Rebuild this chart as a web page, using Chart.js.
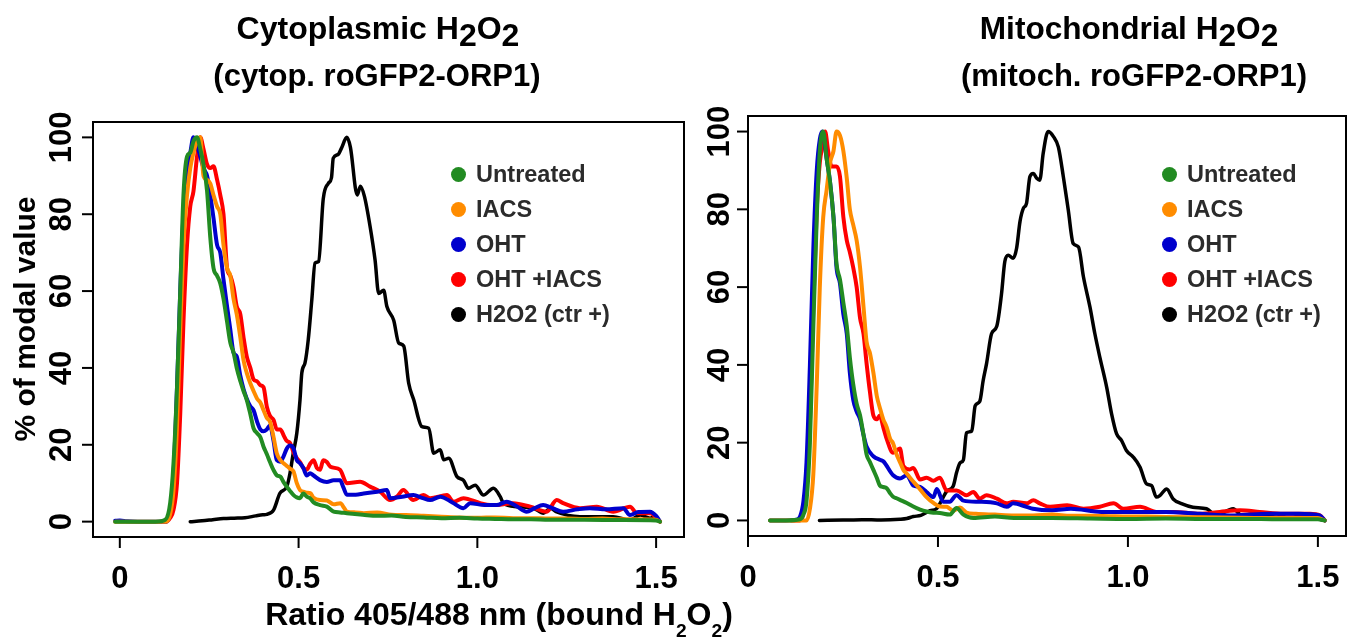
<!DOCTYPE html>
<html>
<head>
<meta charset="utf-8">
<script src="https://cdn.jsdelivr.net/npm/chart.js@4.4.0/dist/chart.umd.min.js"></script>
<style>
  body { margin: 0; background: #fff; }
  #page { position: relative; width: 1354px; height: 638px; overflow: hidden;
          font-family: "Liberation Sans", Arial, sans-serif; font-weight: bold; color: #000; }
  canvas { position: absolute; top: 0; }
  .t { position: absolute; white-space: nowrap; text-align: center; width: 600px;
       font-size: 31px; line-height: 31px; }
  .lg { position: absolute; font-size: 23.5px; line-height: 24px; color: #2b2b2b; white-space: nowrap; }
  .dot { position: absolute; width: 15px; height: 15px; border-radius: 50%; }
</style>
</head>
<body>
<div id="page">
  <canvas id="cyto" width="700" height="638" style="left:0;width:700px;height:638px"></canvas>
  <canvas id="mito" width="654" height="638" style="left:700px;width:654px;height:638px"></canvas>

  <div class="t" style="left:78px;top:13px;font-size:32px">Cytoplasmic H<span style="position:relative;top:7px">2</span>O<span style="position:relative;top:7px">2</span></div>
  <div class="t" style="left:77px;top:60px">(cytop. roGFP2-ORP1)</div>
  <div class="t" style="left:829px;top:13px;font-size:31.6px">Mitochondrial H<span style="position:relative;top:7px">2</span>O<span style="position:relative;top:7px">2</span></div>
  <div class="t" style="left:834px;top:60px">(mitoch. roGFP2-ORP1)</div>

  <div class="t" style="left:199px;top:598px;font-size:32px;line-height:32px">Ratio 405/488 nm (bound H<span style="font-size:60%;position:relative;top:12px">2</span>O<span style="font-size:60%;position:relative;top:12px">2</span>)</div>
  <div class="t" style="left:-175px;top:304px;width:400px;font-size:30px;line-height:30px;transform:rotate(-90deg)">% of modal value</div>

  <div id="legendCyto"></div>
  <div id="legendMito"></div>
</div>
<script>
// series order: Untreated, IACS, OHT, OHT +IACS, H2O2 (ctr +)
const seriesNames = ['Untreated', 'IACS', 'OHT', 'OHT +IACS', 'H2O2 (ctr +)'];
const seriesColors = ['#228B22', '#FF8C00', '#0000CD', '#FF0000', '#000000'];

const xTicks = [0, 0.5, 1.0, 1.5];
const xTickLabels = ['0', '0.5', '1.0', '1.5'];
const yTicks = [0, 20, 40, 60, 80, 100];

// cytoplasmic panel, [ratio, % of modal value]
const cytoUntreated = [[-0.013,0],[0.05,0],[0.1,0],[0.127,0.5],[0.141,5],[0.150,15],[0.160,35],[0.169,60],[0.178,85],[0.188,95],[0.197,96],[0.206,99],[0.216,100],[0.225,97],[0.234,93],[0.244,86],[0.253,74],[0.262,66],[0.272,64],[0.281,62],[0.29,58],[0.30,52],[0.309,46.6],[0.318,44],[0.327,40],[0.337,36.6],[0.346,34],[0.355,31.7],[0.365,28],[0.374,24.3],[0.384,23],[0.393,22],[0.402,19.5],[0.411,17.6],[0.42,15.5],[0.43,13.4],[0.44,12],[0.449,11.7],[0.458,10.3],[0.467,9.1],[0.476,8],[0.486,6.9],[0.495,6.3],[0.504,6.1],[0.513,7.3],[0.523,6.5],[0.532,6.1],[0.542,5],[0.56,4.3],[0.579,3.9],[0.598,2.6],[0.616,2.4],[0.635,2.2],[0.68,1.8],[0.72,1.5],[0.76,1.6],[0.8,1.2],[0.85,1.1],[0.9,0.9],[0.95,1.0],[1.0,0.8],[1.05,0.7],[1.1,0.6],[1.15,0.6],[1.2,0.5],[1.3,0.5],[1.4,0.4],[1.5,0.3],[1.511,0]];
const cytoIacs = [[-0.013,0],[0.05,0],[0.1,0],[0.13,0],[0.141,2],[0.150,8],[0.160,25],[0.169,50],[0.178,72],[0.188,85],[0.197,92],[0.206,96],[0.216,99],[0.225,100],[0.234,90],[0.244,89],[0.253,88],[0.262,85],[0.272,82],[0.281,80],[0.29,72],[0.30,66],[0.309,64],[0.318,58],[0.327,54],[0.337,48],[0.346,42],[0.355,38.7],[0.365,36],[0.374,34],[0.384,32],[0.393,31],[0.402,29],[0.411,27],[0.42,26],[0.43,22],[0.439,17.8],[0.449,16],[0.458,15.2],[0.467,14.5],[0.476,13.8],[0.486,13],[0.495,10],[0.504,8.2],[0.513,7.8],[0.523,7.5],[0.533,7.4],[0.542,6.2],[0.56,5.6],[0.579,5.5],[0.598,4.5],[0.617,4.8],[0.627,3.6],[0.635,2.6],[0.66,2.4],[0.682,2.2],[0.72,2.4],[0.76,1.8],[0.8,1.7],[0.85,1.5],[0.9,1.3],[0.95,1.1],[1.0,1.0],[1.05,1.1],[1.1,0.9],[1.15,0.9],[1.2,0.8],[1.25,0.8],[1.3,0.7],[1.35,0.8],[1.4,0.6],[1.45,0.6],[1.5,0.5],[1.511,0]];
const cytoOht = [[-0.013,0.2],[0.0,0.3],[0.02,0.1],[0.05,0],[0.1,0],[0.13,0],[0.141,3],[0.150,12],[0.160,35],[0.169,60],[0.178,80],[0.188,92],[0.197,96],[0.206,100],[0.216,98],[0.225,95],[0.234,92],[0.244,90],[0.253,85],[0.262,79],[0.272,72],[0.281,70],[0.29,63],[0.30,56],[0.309,50],[0.318,44],[0.327,43],[0.337,38],[0.346,34.5],[0.355,32],[0.365,30],[0.374,29],[0.384,26],[0.393,24],[0.402,23.5],[0.411,24],[0.42,25],[0.43,21],[0.439,16],[0.449,15.6],[0.458,17],[0.467,19],[0.476,19.8],[0.486,19],[0.495,16],[0.504,15.2],[0.513,14],[0.523,12],[0.532,12.6],[0.542,12],[0.56,10.8],[0.579,10.3],[0.598,10.8],[0.616,10.8],[0.625,9],[0.635,7],[0.66,7],[0.682,7.3],[0.72,7.8],[0.747,8.2],[0.756,6.1],[0.79,6.5],[0.821,6.9],[0.845,6.2],[0.868,5.6],[0.896,6.5],[0.93,5],[0.961,3.5],[0.98,4.8],[1.02,4.3],[1.054,4.3],[1.082,5.2],[1.11,4],[1.138,2.6],[1.16,3.5],[1.184,4.3],[1.21,3.5],[1.24,2.6],[1.28,3.2],[1.315,3.5],[1.36,3.2],[1.408,3.5],[1.427,1.7],[1.45,2.5],[1.483,2.6],[1.5,1.5],[1.511,0]];
const cytoOhtIacs = [[0.113,0],[0.13,0],[0.141,1],[0.150,3],[0.160,10],[0.169,28],[0.178,52],[0.188,72],[0.197,82],[0.206,86],[0.216,95],[0.225,100],[0.234,97],[0.244,93],[0.253,92],[0.262,92.5],[0.272,89],[0.281,85],[0.29,80],[0.30,66],[0.309,64],[0.318,61],[0.327,56],[0.337,54],[0.346,48],[0.355,43],[0.365,40],[0.374,37],[0.384,36.5],[0.393,35.5],[0.402,35],[0.411,30],[0.42,27.5],[0.43,26.5],[0.439,24],[0.449,24],[0.458,22.5],[0.467,21],[0.476,20.5],[0.486,18],[0.495,16.5],[0.504,15.5],[0.513,14],[0.523,13.5],[0.532,15],[0.542,16],[0.551,14],[0.56,13.5],[0.569,16],[0.579,15.5],[0.589,14.3],[0.616,13.5],[0.635,10],[0.672,10.4],[0.7,9.1],[0.728,7.8],[0.756,5.6],[0.775,6.5],[0.793,8.2],[0.821,5.6],[0.849,6.9],[0.868,6.1],[0.915,6.9],[0.933,5.2],[0.961,6.1],[1.008,4.8],[1.036,4.3],[1.054,4.3],[1.1,4.8],[1.148,3.9],[1.194,2.6],[1.222,5.6],[1.24,4.8],[1.287,3.5],[1.334,3.9],[1.38,2.6],[1.427,3.9],[1.446,2.2],[1.483,2.2],[1.511,0]];
const cytoH2o2 = [[0.197,0],[0.23,0.2],[0.26,0.5],[0.29,0.8],[0.32,0.9],[0.35,1.0],[0.38,1.5],[0.40,1.8],[0.411,1.9],[0.43,3],[0.448,7.4],[0.467,9.1],[0.476,12.6],[0.485,17.8],[0.495,23],[0.504,31.7],[0.509,38.7],[0.518,41.3],[0.527,47.3],[0.537,57.7],[0.546,67.3],[0.556,67.7],[0.569,84],[0.583,88],[0.592,89.5],[0.597,94.6],[0.61,95.5],[0.62,97.2],[0.635,100],[0.645,97.4],[0.664,85],[0.673,87.3],[0.684,84.7],[0.7,76.8],[0.714,68],[0.724,59.4],[0.738,60.2],[0.747,56],[0.766,52.4],[0.78,46.5],[0.794,45.7],[0.808,36],[0.822,31.7],[0.845,24.7],[0.864,24.3],[0.878,17.8],[0.896,18.7],[0.906,16.1],[0.92,16.5],[0.943,11.7],[0.961,10.8],[0.975,8.7],[0.994,9.5],[1.017,6.9],[1.045,8.7],[1.064,6.5],[1.073,4.8],[1.11,3.9],[1.157,3.5],[1.185,2.2],[1.204,3.5],[1.22,2.6],[1.287,1.3],[1.38,1.3],[1.427,0.4],[1.455,1.7],[1.483,0.9],[1.497,1.3],[1.511,0]];

// mitochondrial panel
const mitoUntreated = [[0.058,0],[0.1,0],[0.137,0.3],[0.146,1.5],[0.154,5],[0.163,20],[0.172,50],[0.181,78],[0.189,95],[0.198,100],[0.207,93],[0.216,87],[0.225,78],[0.233,66],[0.242,62],[0.251,56],[0.26,50],[0.268,42],[0.277,35],[0.286,30],[0.295,27],[0.304,22],[0.312,17],[0.321,15],[0.33,13],[0.339,11],[0.347,9],[0.356,8.6],[0.365,8.3],[0.374,7],[0.382,6.1],[0.391,5.7],[0.4,5.3],[0.418,4.5],[0.435,3.6],[0.453,2.8],[0.47,2.3],[0.488,2],[0.505,1.9],[0.531,1.5],[0.549,3.2],[0.567,1.5],[0.593,0.6],[0.65,1.0],[0.7,0.6],[0.8,0.6],[0.9,0.5],[1.0,0.4],[1.1,0.5],[1.2,0.4],[1.3,0.4],[1.4,0.3],[1.5,0.3],[1.518,0]];
const mitoIacs = [[0.058,0],[0.1,0],[0.154,0],[0.163,3],[0.172,12],[0.181,35],[0.189,60],[0.198,78],[0.207,85],[0.216,92],[0.225,95],[0.233,100],[0.242,99],[0.251,95],[0.26,88],[0.268,80],[0.277,76],[0.286,72],[0.295,65],[0.304,55],[0.312,46],[0.321,43],[0.33,38],[0.339,32],[0.347,29],[0.356,26],[0.365,24],[0.374,21],[0.382,19.8],[0.391,17],[0.4,15],[0.409,13],[0.418,12],[0.435,10],[0.453,8],[0.47,6],[0.488,4.5],[0.505,3.6],[0.523,3.5],[0.54,2.5],[0.558,3.3],[0.575,2],[0.6,1.7],[0.65,1.5],[0.7,1.3],[0.75,1.3],[0.8,1.5],[0.85,1.2],[0.9,1.2],[0.95,1.1],[1.0,1.0],[1.05,1.0],[1.1,0.9],[1.2,0.8],[1.3,0.7],[1.4,0.6],[1.5,0.6],[1.518,0]];
const mitoOht = [[0.058,0],[0.1,0],[0.128,0.2],[0.137,1],[0.146,5],[0.154,15],[0.163,40],[0.172,70],[0.181,90],[0.189,98],[0.196,100],[0.207,93],[0.216,87],[0.225,78],[0.233,65],[0.242,61],[0.251,53],[0.26,48],[0.268,38],[0.277,31],[0.286,28],[0.295,26],[0.304,22],[0.312,19],[0.33,16.5],[0.347,15.6],[0.356,15.2],[0.382,11.6],[0.4,10.8],[0.418,11.6],[0.435,9],[0.453,8.6],[0.47,7.3],[0.488,6],[0.497,8.1],[0.514,4.8],[0.531,4.8],[0.549,6.5],[0.567,5.1],[0.61,4.8],[0.655,4.4],[0.681,3.5],[0.698,4.4],[0.733,3.5],[0.75,3],[0.8,2.6],[0.85,3],[0.93,2.2],[1.0,2.2],[1.1,2.2],[1.19,1.7],[1.28,1.3],[1.37,1.7],[1.45,1.7],[1.505,1.3],[1.518,0]];
const mitoOhtIacs = [[0.114,0],[0.137,0],[0.146,2],[0.154,8],[0.163,25],[0.172,55],[0.181,80],[0.189,92],[0.198,97],[0.203,100],[0.211,95],[0.22,91],[0.233,91],[0.242,88.5],[0.251,78],[0.26,72],[0.268,69],[0.277,65],[0.286,60],[0.295,52],[0.304,48],[0.312,40.5],[0.321,33],[0.33,27],[0.339,26],[0.347,27],[0.356,24],[0.365,21],[0.382,17.4],[0.4,18.5],[0.409,14],[0.426,13.1],[0.435,13.5],[0.453,10.5],[0.47,11],[0.488,10.2],[0.505,11],[0.523,7.7],[0.549,7.7],[0.575,6.5],[0.593,7.3],[0.61,5.6],[0.628,6.5],[0.655,5.6],[0.681,4.4],[0.698,4.8],[0.733,4.4],[0.751,5.2],[0.768,4.4],[0.795,3.5],[0.84,3.9],[0.883,3],[0.926,3.5],[0.962,4.4],[0.988,3],[1.032,3.5],[1.075,2.2],[1.119,2.2],[1.189,1.7],[1.242,2.2],[1.295,2.6],[1.347,2.2],[1.41,1.7],[1.479,1.7],[1.505,1.3],[1.518,0]];
const mitoH2o2 = [[0.188,0],[0.25,0.1],[0.3,0.2],[0.35,0.1],[0.4,0.3],[0.418,0.5],[0.435,1],[0.455,1.3],[0.479,2.5],[0.496,3],[0.514,6],[0.523,7.5],[0.54,8.8],[0.549,12.3],[0.558,14.8],[0.567,15.6],[0.575,22.5],[0.589,23],[0.598,29.5],[0.61,30.6],[0.619,36],[0.628,40.4],[0.641,48],[0.655,50],[0.667,58],[0.676,66.6],[0.685,68.2],[0.698,67.4],[0.707,70],[0.716,76.9],[0.725,80.3],[0.733,81.5],[0.742,88.4],[0.751,89.2],[0.76,88],[0.768,87.5],[0.777,94.4],[0.79,100],[0.804,98.7],[0.817,96],[0.83,88.4],[0.843,79.8],[0.856,71.2],[0.87,70.3],[0.883,62.6],[0.9,54.9],[0.913,48],[0.926,42],[0.944,34.3],[0.957,27.4],[0.97,22.3],[0.983,20.6],[0.996,18],[1.014,16.3],[1.032,13.7],[1.049,9.4],[1.062,9],[1.075,6],[1.084,6.4],[1.102,8.1],[1.119,5.5],[1.141,4.3],[1.171,3.4],[1.207,3],[1.233,1.3],[1.277,3],[1.3,1.3],[1.33,1.7],[1.365,1.3],[1.391,1.7],[1.426,0.4],[1.453,1.3],[1.479,1.3],[1.5,0.4],[1.518,0]];

// R-like box, outward ticks, rotated y labels
const rAxes = {
  id: 'rAxes',
  afterDraw(chart, args, opts) {
    const { ctx, chartArea: a } = chart;
    const x = chart.scales.x, y = chart.scales.y;
    ctx.save();
    ctx.strokeStyle = '#000';
    ctx.fillStyle = '#000';
    ctx.lineWidth = 2;
    ctx.strokeRect(a.left, a.top, a.right - a.left, a.bottom - a.top);
    ctx.font = 'bold 31px "Liberation Sans", Arial, sans-serif';
    ctx.textAlign = 'center';
    ctx.textBaseline = 'alphabetic';
    xTicks.forEach((v, i) => {
      const px = x.getPixelForValue(v);
      ctx.beginPath();
      ctx.moveTo(px, a.bottom);
      ctx.lineTo(px, a.bottom + 11);
      ctx.stroke();
      ctx.fillText(xTickLabels[i], px, a.bottom + 51);
    });
    yTicks.forEach(v => {
      const py = y.getPixelForValue(v);
      ctx.beginPath();
      ctx.moveTo(a.left - 11, py);
      ctx.lineTo(a.left, py);
      ctx.stroke();
      ctx.save();
      ctx.translate(a.left - opts.labelGap, py);
      ctx.rotate(-Math.PI / 2);
      ctx.fillText(String(v), 0, 11);
      ctx.restore();
    });
    ctx.restore();
  }
};

function makeChart(id, series, xMin, xMax, padding, labelGap) {
  return new Chart(document.getElementById(id), {
    type: 'line',
    data: {
      datasets: series.map((pts, i) => ({
        label: seriesNames[i],
        data: pts.map(p => ({ x: p[0], y: p[1] })),
        borderColor: seriesColors[i],
        borderWidth: i === 4 ? 3.5 : 4,
        pointRadius: 0,
        cubicInterpolationMode: 'monotone',
        borderJoinStyle: 'round',
        borderCapStyle: 'round',
        fill: false
      }))
    },
    options: {
      responsive: false,
      animation: false,
      layout: { padding },
      scales: {
        x: { type: 'linear', min: xMin, max: xMax, display: false },
        y: { type: 'linear', min: -4, max: 104, display: false }
      },
      plugins: {
        legend: { display: false },
        tooltip: { enabled: false },
        rAxes: { labelGap }
      }
    },
    plugins: [rAxes]
  });
}

makeChart('cyto', [cytoUntreated, cytoIacs, cytoOht, cytoOhtIacs, cytoH2o2],
  -0.075, 1.578, { left: 93, right: 16, top: 122, bottom: 101 }, 33);
makeChart('mito', [mitoUntreated, mitoIacs, mitoOht, mitoOhtIacs, mitoH2o2],
  0, 1.574, { left: 48, right: 8, top: 116, bottom: 102 }, 30);

// legends inside each panel
function makeLegend(id, dotX, textX) {
  const box = document.getElementById(id);
  seriesNames.forEach((name, i) => {
    const cy = 174 + i * 35;
    const d = document.createElement('div');
    d.className = 'dot';
    d.style.left = (dotX - 7.5) + 'px';
    d.style.top = (cy - 7.5) + 'px';
    d.style.background = seriesColors[i];
    box.appendChild(d);
    const t = document.createElement('div');
    t.className = 'lg';
    t.style.left = textX + 'px';
    t.style.top = (cy - 11.7) + 'px';
    t.textContent = name;
    box.appendChild(t);
  });
}
makeLegend('legendCyto', 458, 476);
makeLegend('legendMito', 1169, 1187);
</script>
</body>
</html>
